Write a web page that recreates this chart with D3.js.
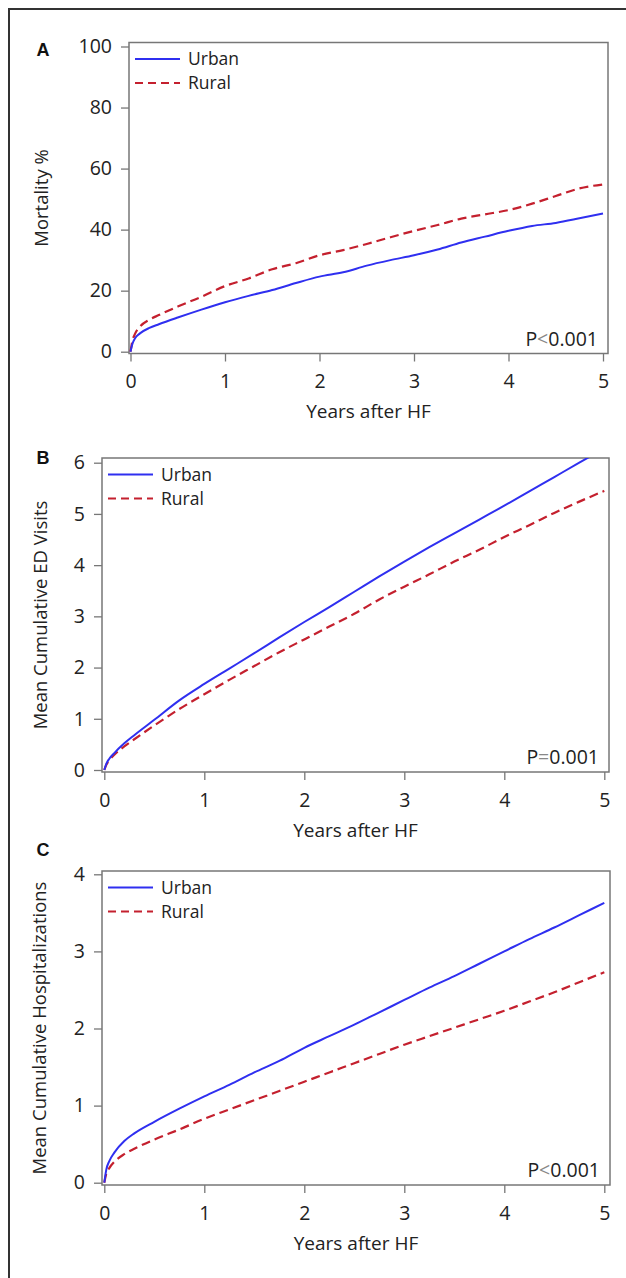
<!DOCTYPE html>
<html>
<head>
<meta charset="utf-8">
<script src="https://cdn.jsdelivr.net/npm/d3@7"></script>
<style>
  body { margin: 0; background: #fff; }
  svg { display: block; font-family: "Open Sans", sans-serif; }
</style>
</head>
<body>
<div id="chart"></div>
<script>
var years = [0, 0.02, 0.05, 0.1, 0.2, 0.3, 0.5, 0.75, 1, 1.25, 1.5, 1.75, 2, 2.25, 2.5, 2.75, 3, 3.25, 3.5, 3.75, 4, 4.25, 4.5, 4.75, 5];

// panel A: mortality %
var mortUrban = [0, 2.5, 4.5, 6, 7.8, 9, 11.2, 13.8, 16.2, 18.3, 20.2, 22.5, 24.6, 26, 28.2, 30, 31.6, 33.5, 35.8, 37.7, 39.6, 41.2, 42.2, 43.7, 45.3];
var mortRural = [0, 3.5, 6, 8.2, 10.5, 12, 14.8, 18, 21.5, 24, 27, 29, 31.6, 33.3, 35.3, 37.5, 39.6, 41.5, 43.6, 45, 46.4, 48.5, 51, 53.5, 54.8];

// panel B: mean cumulative ED visits
var edUrban = [0, 0.12, 0.22, 0.33, 0.52, 0.68, 0.98, 1.36, 1.68, 1.98, 2.28, 2.59, 2.89, 3.18, 3.48, 3.78, 4.07, 4.35, 4.62, 4.89, 5.16, 5.44, 5.72, 6.0, 6.28];
var edRural = [0, 0.1, 0.19, 0.3, 0.46, 0.6, 0.87, 1.19, 1.48, 1.76, 2.03, 2.3, 2.55, 2.8, 3.05, 3.33, 3.58, 3.82, 4.07, 4.3, 4.55, 4.78, 5.02, 5.24, 5.45];

// panel C: mean cumulative hospitalizations
var hospUrban = [0, 0.17, 0.28, 0.39, 0.54, 0.64, 0.79, 0.96, 1.12, 1.27, 1.43, 1.58, 1.75, 1.9, 2.05, 2.21, 2.37, 2.53, 2.68, 2.84, 3.0, 3.16, 3.31, 3.47, 3.63];
var hospRural = [0, 0.12, 0.19, 0.27, 0.37, 0.44, 0.56, 0.69, 0.83, 0.95, 1.07, 1.19, 1.31, 1.43, 1.55, 1.67, 1.79, 1.9, 2.01, 2.12, 2.23, 2.35, 2.47, 2.6, 2.73];

var xTicks = [0, 1, 2, 3, 4, 5];
var mortTicks = [0, 20, 40, 60, 80, 100];
var edTicks = [0, 1, 2, 3, 4, 5, 6];
var hospTicks = [0, 1, 2, 3, 4];
var seriesNames = ["Urban", "Rural"];

var W = 626, H = 1278;
var blue = "#2f2ff0", red = "#c4202e";

var panels = [
    { letter: "A", title: "Mortality %", urban: mortUrban, rural: mortRural, yTicks: mortTicks, p: "P<0.001",
      box: { l: 129, r: 608, t: 42.5, b: 353.5 }, xr: [130.5, 603], yr: [351.7, 46.5], titleX: 48 },
    { letter: "B", title: "Mean Cumulative ED Visits", urban: edUrban, rural: edRural, yTicks: edTicks, p: "P=0.001",
      box: { l: 102, r: 609, t: 458, b: 772 }, xr: [104.3, 604.3], yr: [770, 462.7], titleX: 47 },
    { letter: "C", title: "Mean Cumulative Hospitalizations", urban: hospUrban, rural: hospRural, yTicks: hospTicks, p: "P<0.001",
      box: { l: 102, r: 610, t: 871, b: 1185 }, xr: [104.3, 604.3], yr: [1182.7, 874.3], titleX: 46 }
];

var svg = d3.select("#chart")
            .append("svg")
            .attr("width", W)
            .attr("height", H);

// outer border (right and bottom are cut off in the picture)
svg.append("path")
   .attr("d", "M9,1278V9H626")
   .attr("fill", "none")
   .attr("stroke", "#333")
   .attr("stroke-width", 2);

panels.forEach(function(p, k) {
    var g = svg.append("g");
    var b = p.box;

    var x = d3.scaleLinear().domain([0, 5]).range(p.xr);
    var y = d3.scaleLinear().domain([0, d3.max(p.yTicks)]).range(p.yr);

    // clip to the plot frame
    var clipId = "clip" + k;
    g.append("clipPath").attr("id", clipId)
     .append("rect")
     .attr("x", b.l).attr("y", b.t)
     .attr("width", b.r - b.l).attr("height", b.b - b.t);

    // axes
    var fmt = d3.format("d");
    var xAxis = g.append("g")
        .attr("transform", "translate(0," + b.b + ")")
        .call(d3.axisBottom(x).tickValues(xTicks).tickFormat(fmt).tickSize(8).tickPadding(13).tickSizeOuter(0));
    var yAxis = g.append("g")
        .attr("transform", "translate(" + b.l + ",0)")
        .call(d3.axisLeft(y).tickValues(p.yTicks).tickFormat(fmt).tickSize(8).tickPadding(9).tickSizeOuter(0));
    [xAxis, yAxis].forEach(function(a) {
        a.select(".domain").remove();
        a.selectAll("line").attr("stroke", "#777").attr("stroke-width", 1.3);
        a.selectAll("text")
         .attr("font-family", "Open Sans, sans-serif")
         .attr("font-size", 19.5)
         .attr("fill", "#222");
    });

    // frame
    g.append("rect")
     .attr("x", b.l).attr("y", b.t)
     .attr("width", b.r - b.l).attr("height", b.b - b.t)
     .attr("fill", "none")
     .attr("stroke", "#777")
     .attr("stroke-width", 1.5);

    // curves
    var line = d3.line()
        .x(function(d, i) { return x(years[i]); })
        .y(function(d) { return y(d); })
        .curve(d3.curveMonotoneX);

    var curves = g.append("g").attr("clip-path", "url(#" + clipId + ")");
    curves.append("path")
          .datum(p.rural)
          .attr("d", line)
          .attr("fill", "none")
          .attr("stroke", red)
          .attr("stroke-width", 2.2)
          .attr("stroke-dasharray", "9,5");
    curves.append("path")
          .datum(p.urban)
          .attr("d", line)
          .attr("fill", "none")
          .attr("stroke", blue)
          .attr("stroke-width", 2);

    // legend
    var leg = g.selectAll(".leg")
        .data(seriesNames)
        .enter()
        .append("g")
        .attr("transform", function(d, i) { return "translate(" + (b.l + 6) + "," + (b.t + 16.5 + i * 24) + ")"; });
    leg.append("line")
       .attr("x1", 0).attr("x2", 45)
       .attr("stroke", function(d, i) { return i === 0 ? blue : red; })
       .attr("stroke-width", 1.8)
       .attr("stroke-dasharray", function(d, i) { return i === 0 ? null : "8,5"; });
    leg.append("text")
       .attr("x", 53)
       .attr("dy", "0.35em")
       .attr("font-size", 17.5)
       .attr("fill", "#222")
       .text(function(d) { return d; });

    // p value
    var pt = g.append("text")
        .attr("x", b.r - 10)
        .attr("y", b.b - 8)
        .attr("text-anchor", "end")
        .attr("font-size", 19.5)
        .attr("fill", "#222");
    pt.append("tspan").text(p.p.charAt(0));
    pt.append("tspan").attr("fill", "#888").text(p.p.charAt(1));
    pt.append("tspan").text(p.p.slice(2));

    // axis titles
    g.append("text")
     .attr("x", (b.l + b.r) / 2)
     .attr("y", b.b + 64.5)
     .attr("text-anchor", "middle")
     .attr("font-size", 19)
     .attr("fill", "#222")
     .text("Years after HF");

    g.append("text")
     .attr("transform", "translate(" + p.titleX + "," + ((b.t + b.b) / 2) + ") rotate(-90)")
     .attr("text-anchor", "middle")
     .attr("font-size", 18.5)
     .attr("fill", "#222")
     .text(p.title);

    // panel letter
    g.append("text")
     .attr("x", 43)
     .attr("y", b.t + (k === 0 ? 13.5 : (k === 1 ? 6 : -15)))
     .attr("text-anchor", "middle")
     .attr("font-family", "Liberation Sans, Arial, sans-serif")
     .attr("font-weight", "bold")
     .attr("font-size", 18)
     .attr("fill", "#111")
     .text(p.letter);
});
</script>
</body>
</html>
